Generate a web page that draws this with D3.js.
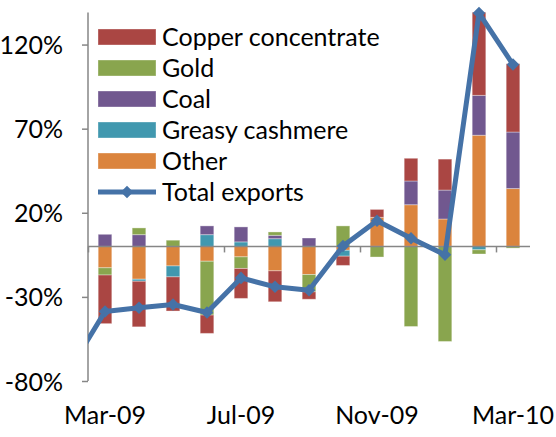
<!DOCTYPE html>
<html><head><meta charset="utf-8">
<script src="https://cdn.jsdelivr.net/npm/d3@7"></script>
<style>html,body{margin:0;padding:0;background:#fff;}svg{display:block;}</style>
</head><body>
<svg id="chart" width="556" height="437"></svg>
<script>
const months = ["Feb-09","Mar-09","Apr-09","May-09","Jun-09","Jul-09","Aug-09","Sep-09","Oct-09","Nov-09","Dec-09","Jan-10","Feb-10","Mar-10"];
const other    = [null, -12.7, -19.5, -11.6,  -8.8,  -6.2, -14.5, -16.7, -2.3, 17.3,  24.8,  16.3, 66.1, 34.4];
const cashmere = [null,   0.0,  -1.2,  -6.5,   7.0,   2.7,   4.6,   0.0, -3.5,  0.0,   0.0,   0.0, -2.0,  0.0];
const coal     = [null,   7.2,   7.0,   0.0,   5.2,   8.9,   2.0,   5.0,  0.0,  0.0,  14.1,  17.2, 23.7, 33.6];
const gold     = [null,  -4.3,   4.0,   3.7, -32.0,  -6.9,   2.0, -10.3, 12.2, -6.3, -47.6, -56.5, -2.5, -1.0];
const copper   = [null, -28.9, -27.1, -20.3, -10.9, -17.8, -18.4,  -4.4, -5.5,  4.7,  13.5,  18.4, 49.4, 40.6];
const total    = [-72.0, -38.7, -36.5, -34.5, -39.3, -18.7, -24.0, -26.0,  0.3, 15.3,   4.9,  -5.0, 138.7, 108.1];
const yTicks = [-80, -30, 20, 70, 120];
const xLabels = ["Mar-09","Jul-09","Nov-09","Mar-10"];

const seriesNames = {other:"Other", cashmere:"Greasy cashmere", coal:"Coal", gold:"Gold", copper:"Copper concentrate"};
const colors = {copper:"#AA4643", gold:"#89A54E", coal:"#71588F", cashmere:"#4198AF", other:"#DB843D", total:"#4572A7"};
const keys = ["other","cashmere","coal","gold","copper"];
const legendKeys = ["copper","gold","coal","cashmere","other"];
const FONT = "Lato, 'Open Sans', sans-serif";

const svg = d3.select("#chart");
const x = d3.scaleLinear().domain([0.5, months.length - 0.5]).range([88, 530]);
const y = d3.scaleLinear().domain([-80, 139]).range([381, 12.6]);
const bandW = x(1) - x(0);
const barW = bandW / 2.5;

const rows = months.map((m, i) => ({month: m, i, other: other[i], cashmere: cashmere[i], coal: coal[i], gold: gold[i], copper: copper[i]}))
  .filter(r => r.other !== null);
const stack = d3.stack().keys(keys).value((d, k) => d[k] || 0).order(d3.stackOrderNone).offset(d3.stackOffsetDiverging);
const stacked = stack(rows);

// bars
const g = svg.append("g");
stacked.forEach(s => {
  g.selectAll(null).data(s.filter(d => Math.abs(d[1] - d[0]) > 0.001)).enter().append("rect")
    .attr("x", d => x(d.data.i) - barW / 2)
    .attr("width", barW)
    .attr("y", d => y(Math.max(d[0], d[1])))
    .attr("height", d => Math.abs(y(d[0]) - y(d[1])))
    .attr("fill", colors[s.key])
    .attr("stroke", "rgba(255,255,255,0.35)")
    .attr("stroke-width", 1);
});

// axes
const axisColor = "#868686";
const yAxis = svg.append("g").attr("transform", "translate(88,0)")
  .call(d3.axisLeft(y).tickValues(yTicks).tickSize(6).tickFormat(d => d + "%"));
yAxis.select(".domain").attr("stroke", axisColor).attr("stroke-width", 1.5).attr("d", `M0,${y(-80)}V${y(139)}`);
yAxis.selectAll(".tick line").attr("stroke", axisColor).attr("stroke-width", 1.5);
yAxis.selectAll(".tick text").attr("font-family", FONT).attr("font-size", 25).attr("fill", "#000")
  .attr("x", -25).attr("dy", "0.36em");

const boundaries = d3.range(0.5, months.length, 4);
const xAxis = svg.append("g").attr("transform", `translate(0,${y(0)})`)
  .call(d3.axisBottom(x).tickValues(boundaries).tickSize(6).tickFormat(""));
xAxis.select(".domain").attr("stroke", axisColor).attr("stroke-width", 1.5).attr("d", `M${x(0.5)},0H${x(months.length - 0.5)}`);
xAxis.selectAll(".tick line").attr("stroke", axisColor).attr("stroke-width", 1.5);

svg.append("g").selectAll("text").data(xLabels).enter().append("text")
  .attr("x", d => x(months.indexOf(d)))
  .attr("y", 424)
  .attr("text-anchor", "middle")
  .attr("font-family", FONT).attr("font-size", 25).attr("fill", "#000")
  .text(d => d);

// total line
svg.append("defs").append("clipPath").attr("id", "clip").append("rect")
  .attr("x", x(0.5)).attr("y", 0).attr("width", x(months.length - 0.5) - x(0.5) + 20).attr("height", 437);
const lg = svg.append("g").attr("clip-path", "url(#clip)");
const line = d3.line().x((d, i) => x(i)).y(d => y(d));
lg.append("path").datum(total).attr("d", line).attr("fill", "none")
  .attr("stroke", colors.total).attr("stroke-width", 5).attr("stroke-linejoin", "round");
const diamond = d3.symbol().type(d3.symbolDiamond2).size(100);
lg.selectAll("path.m").data(total).enter().append("path").attr("class", "m")
  .attr("transform", (d, i) => `translate(${x(i)},${y(d)})`)
  .attr("d", diamond).attr("fill", colors.total);

// legend
const leg = svg.append("g");
legendKeys.forEach((k, i) => {
  const cy = 37 + 31 * i;
  leg.append("rect").attr("x", 98).attr("y", cy - 8).attr("width", 58).attr("height", 16).attr("fill", colors[k])
    .attr("stroke", "rgba(255,255,255,0.35)");
  leg.append("text").attr("x", 162).attr("y", cy).attr("dy", "0.36em")
    .attr("font-family", FONT).attr("font-size", 25).attr("fill", "#000").text(seriesNames[k]);
});
{
  const cy = 37 + 31 * 5;
  leg.append("line").attr("x1", 98).attr("x2", 156).attr("y1", cy).attr("y2", cy)
    .attr("stroke", colors.total).attr("stroke-width", 5);
  leg.append("path").attr("transform", `translate(127,${cy})`).attr("d", diamond).attr("fill", colors.total);
  leg.append("text").attr("x", 162).attr("y", cy).attr("dy", "0.36em")
    .attr("font-family", FONT).attr("font-size", 25).attr("fill", "#000").text("Total exports");
}
</script>
</body></html>
